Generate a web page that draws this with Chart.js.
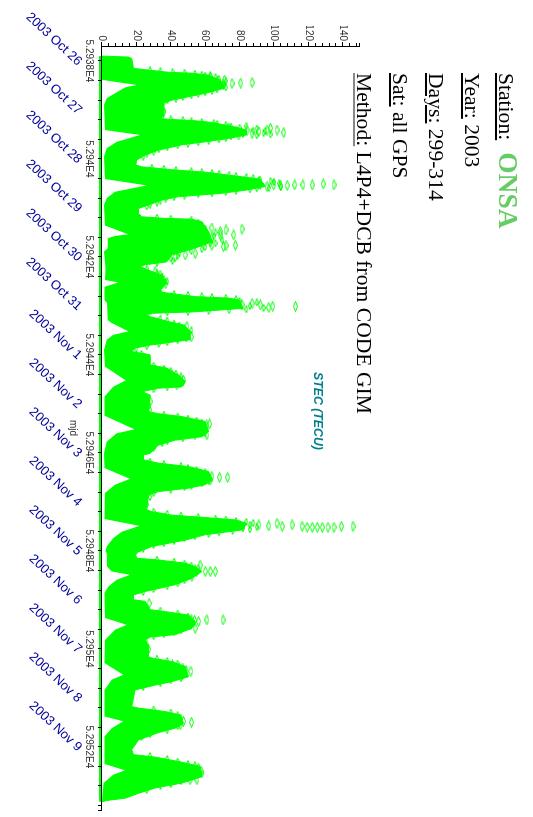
<!DOCTYPE html>
<html><head><meta charset="utf-8">
<script src="https://cdn.jsdelivr.net/npm/chart.js@4"></script>
<style>
html,body{margin:0;padding:0;background:#fff;overflow:hidden;width:533px;height:817px}
#rot{position:absolute;left:0;top:0;width:817px;height:533px;transform-origin:0 0;transform:translate(533px,0) rotate(90deg)}
canvas{position:absolute;left:0;top:0}
.t{position:absolute;left:73px;font-family:"Liberation Serif",serif;font-size:21.6px;line-height:0;white-space:nowrap;color:#000}
.t u{text-underline-offset:2px}
.s{font-weight:bold;font-size:27.5px;color:#66cc66;margin-left:12px}
#stec{position:absolute;left:372px;top:215px;font:italic bold 12.3px "Liberation Sans",sans-serif;line-height:0;color:#00808c;white-space:nowrap}
</style></head><body>
<div id="rot">
<canvas id="c" width="817" height="533"></canvas>
<div class="t" style="top:25px"><u>Station:</u><span class="s">ONSA</span></div>
<div class="t" style="top:61px"><u>Year:</u> 2003</div>
<div class="t" style="top:97px"><u>Days:</u> 299-314</div>
<div class="t" style="top:133px"><u>Sat:</u> all GPS</div>
<div class="t" style="top:169px"><u style="text-decoration-color:#888">Method:</u> L4P4+DCB from CODE GIM</div>
<div id="stec">STEC (TECU)</div>
</div>
<script>
const mjdStart = 52938;
const dateLabels = ["2003 Oct 26","2003 Oct 27","2003 Oct 28","2003 Oct 29","2003 Oct 30","2003 Oct 31","2003 Nov 1","2003 Nov 2","2003 Nov 3","2003 Nov 4","2003 Nov 5","2003 Nov 6","2003 Nov 7","2003 Nov 8","2003 Nov 9"];
const mjdLabels = {52938:"5.2938E4",52940:"5.294E4",52942:"5.2942E4",52944:"5.2944E4",52946:"5.2946E4",52948:"5.2948E4",52950:"5.295E4",52952:"5.2952E4"};
const stecMajorTicks = [0,20,40,60,80,100,120,140];
const stecMinorTicks = [0,4,8,12,16,20,24,28,32,36,40,44,48,52,56,60,64,68,72,76,80,84,88,92,96,100,104,108,112,116,120,124,128,132,136,140,144,148,150];

// upper edge of the dense point cloud (days since mjdStart, TECU)
const upperDays = [-0.10,-0.08,-0.05,0.15,0.17,0.23,0.25,0.29,0.39,0.49,0.56,0.66,0.73,0.80,0.86,1.14,1.17,1.19,1.22,1.25,1.32,1.37,1.41,1.51,1.58,1.65,1.71,1.82,1.92,2.02,2.12,2.16,2.22,2.27,2.33,2.38,2.41,2.56,2.63,2.70,2.77,2.84,2.94,3.01,3.11,3.18,3.21,3.23,3.28,3.48,3.69,3.82,3.96,4.10,4.16,4.20,4.27,4.37,4.54,4.71,4.74,4.81,4.84,4.88,5.05,5.12,5.15,5.16,5.22,5.32,5.39,5.52,5.69,5.73,5.80,5.86,5.93,6.00,6.20,6.27,6.41,6.54,6.65,6.68,6.75,6.82,7.16,7.20,7.26,7.36,7.56,7.67,7.74,7.84,8.01,8.04,8.14,8.21,8.28,8.38,8.55,8.65,8.72,8.79,8.86,9.16,9.20,9.27,9.33,9.37,9.44,9.57,9.67,9.78,9.91,10.05,10.15,10.18,10.25,10.32,10.42,10.56,10.69,10.83,10.90,11.00,11.03,11.20,11.24,11.31,11.44,11.58,11.71,11.76,11.82,11.95,12.16,12.19,12.26,12.36,12.57,12.67,12.74,12.84,13.18,13.21,13.28,13.35,13.52,13.62,13.71,13.86,14.06,14.16,14.21,14.30,14.40,14.61,14.74,14.84,14.95,15.05,15.10,15.12];
const upperStec = [0,15.4,17.3,18.3,23.1,38.7,52.3,62,68.8,70.7,70.7,60,50.3,40.6,35.8,35.8,32.8,38.7,54.2,63,73.7,80,84,84,73.7,60.1,46.5,32.8,25.1,20.2,19.6,23.1,40.6,60.1,73.7,85,92,95,85,69.8,44.5,34.8,27,21.2,21.2,23.1,34.8,52.3,58.1,62,64,54.2,40.6,37.7,25.1,22.2,27,34.8,37.7,32.8,38.7,54.2,73.7,80,82,54.2,29,25.1,28,38.7,47.4,51.3,51.3,42.6,28,19.2,17.3,28,28,37.7,44.5,48.4,46.5,32.8,23.1,28,27,32.8,46.5,60,62,58.1,42.6,32.8,28,24.1,24.1,32.8,50.3,62,64,60,50.3,32.8,27,26,29,40.6,63.9,78,84,82,60.1,48.4,29,19.2,20.2,30.9,48.4,54.2,58.1,52.3,42.6,25.1,18.3,18.3,25.1,28,36.7,50.3,54.2,52.3,42.6,28,25.1,27,27,29,40.6,48.4,50.3,40.6,30.9,19.2,17.3,21.2,36.7,45.5,47.4,42.6,32.8,21.2,17.3,18.3,30.9,44.5,57.1,58.1,46.5,30.9,21.2,13.4,1.7,0];

// lower edge of the dense point cloud, with the daily notches
const lowerDays = [-0.10,0.38,0.39,0.49,0.54,0.66,0.76,0.90,1.41,1.51,1.65,1.78,1.95,2.41,2.54,2.67,2.80,2.94,3.36,3.54,3.57,3.62,3.82,3.89,4.23,4.47,4.52,4.61,4.88,4.94,5.29,5.35,5.52,5.59,5.69,5.90,6.24,6.52,6.65,6.85,7.24,7.52,7.60,7.77,8.01,8.31,8.53,8.65,8.82,9.35,9.49,9.61,9.74,9.91,10.01,10.05,10.32,10.42,10.49,10.59,10.73,10.86,11.37,11.51,11.61,11.82,12.29,12.53,12.63,12.84,13.38,13.48,13.62,13.79,14.35,14.48,14.57,14.74,15.12];
const lowerStec = [0,0,0.8,20.2,13.4,7.6,2.7,1.2,1.7,22.2,8.6,2.7,1.2,1.7,26,7.6,2.7,1.2,1.7,15.4,7.6,3.3,3.3,1.2,2.1,1.7,9.5,1.4,1.4,2.9,3.3,5.6,15.4,6.6,2.7,1.2,1.7,13.8,6.6,1.4,1.4,18.9,8.6,2.7,1.2,1.4,16.3,7.6,1.7,1.4,21.8,11.5,6.6,2.7,2.1,2.7,2.9,5.6,16.3,8.6,3.7,1.4,1.7,14.4,7.6,1.7,1.4,12.4,5.6,1.4,1.4,12.4,5.6,1.4,1.4,13.4,6.6,0.8,0];

const outlierDays = [0.44,0.45,0.46,0.48,0.39,0.32,0.42,1.05,0.98,1.10,0.93,1.46,1.41,1.37,1.41,1.44,1.48,1.41,1.51,1.44,1.37,2.53,2.51,2.53,2.53,2.53,2.54,2.54,2.53,2.56,2.46,3.43,3.55,3.45,3.48,3.55,3.76,3.77,3.79,3.93,3.96,3.99,3.62,3.69,3.76,3.41,4.37,4.54,4.64,4.74,4.30,5.01,5.01,5.03,4.98,4.95,4.98,5.42,5.63,5.52,6.09,6.09,6.09,6.52,6.52,6.61,6.95,7.02,7.41,7.43,7.56,7.63,8.50,8.50,8.48,8.55,9.50,9.50,9.52,9.52,9.52,9.52,9.52,9.52,9.50,9.47,9.50,9.44,9.49,9.47,10.42,10.42,10.42,10.29,10.39,10.52,11.07,11.41,11.41,11.44,11.42,11.51,11.58,12.01,11.92,12.46,12.46,12.53,12.33,13.50,13.48,13.55,14.50,14.44,14.67,14.67];
const outlierStec = [87.3,80.7,75.6,70.7,71.3,63,66.9,35.8,32.8,32.8,31.9,105.7,101.8,98,96,91.2,87.3,84.4,79.5,74.6,73.7,134.9,128.7,122.3,116.8,112.1,107.7,103.8,99.9,96,91.2,81.4,76.6,72.1,68.8,68.8,77.6,72.1,70.7,54.2,48.4,42.6,63.9,63,63.9,63.9,33.8,37.1,32.8,33.8,30.9,112.5,99.3,97,92.1,87.3,81.4,49.4,51.9,48.4,27,25.1,23.1,47.4,45.5,43.5,28,27,62.6,61,58.1,61,73.1,68.4,63.9,63,146,139.2,134.9,131.4,128.1,125.2,122.3,119.3,116.4,110.6,104.8,101.8,97,91.2,65.9,63,60.1,57.1,54.2,52.3,27.4,70.4,61,56.2,53.8,51.3,54.2,27,26,51.7,47.4,46.8,41,52.1,47.4,45.5,57.7,56.2,55.2,51.3];

// observations along the serrated edge of each daily lobe [days, TECU]
const edgeReadings = [
[0.19,28],[0.21,34],[0.23,41],[0.24,48],[0.26,54],[0.28,58],[0.31,63],[0.33,66],[0.30,60],[0.37,68],[0.41,72],[0.45,68],[0.50,71],[0.54,72],[0.52,66],[0.48,64],[0.58,67],[0.61,64],[0.64,60],[0.67,56],[0.70,52],[0.73,47],[0.77,43],[0.80,38],[0.84,36],[0.88,33],[0.92,34],[1.01,36],[1.04,33],[1.13,34],[1.15,33],
[1.19,40],[1.21,47],[1.23,52],[1.25,58],[1.27,65],[1.29,67],[1.31,72],[1.34,75],[1.36,80],[1.33,84],[1.40,78],[1.42,88],[1.45,80],[1.47,94],[1.49,82],[1.52,90],[1.54,75],[1.50,98],[1.43,95],[1.38,90],[1.57,72],[1.60,68],[1.63,62],[1.66,56],[1.69,50],[1.72,44],[1.76,38],[1.80,33],[1.85,30],[1.89,26],[1.95,24],
[2.18,29],[2.20,36],[2.23,43],[2.25,52],[2.27,58],[2.29,64],[2.31,68],[2.33,74],[2.35,78],[2.37,84],[2.39,88],[2.42,92],[2.45,98],[2.47,100],[2.50,103],[2.55,92],[2.57,104],[2.59,97],[2.60,90],[2.62,86],[2.65,78],[2.67,72],[2.70,64],[2.72,56],[2.75,48],[2.78,42],[2.81,37],[2.85,34],[2.89,32],[2.93,28],[2.97,26],
[3.20,32],[3.22,40],[3.24,52],[3.30,56],[3.34,50],[3.38,57],[3.42,60],[3.46,58],[3.50,66],[3.54,61],[3.58,65],[3.62,58],[3.66,70],[3.70,60],[3.72,66],[3.80,60],[3.84,58],[3.88,52],[3.92,45],[3.98,44],[4.03,40],[4.08,41],[4.12,32],[4.24,26],[4.33,32],[4.40,35],[4.46,36],[4.50,38],[4.58,35],[4.66,34],[4.70,33],
[4.76,42],[4.78,50],[4.80,58],[4.82,64],[4.84,72],[4.86,78],[4.90,80],[4.93,90],[4.96,78],[5.00,86],[5.04,94],[5.07,84],[5.08,74],[5.10,62],[5.12,50],[5.13,38],
[5.20,27],[5.26,34],[5.30,38],[5.36,42],[5.40,45],[5.46,48],[5.50,52],[5.57,47],[5.60,50],[5.66,49],[5.70,44],[5.74,38],[5.77,33],[5.82,26],[5.88,20],[5.98,23],[6.04,25],[6.14,27],[6.22,30],
[6.28,36],[6.33,40],[6.38,43],[6.44,46],[6.48,44],[6.56,42],[6.60,45],[6.66,38],[6.70,30],[6.76,24],[6.88,26],[7.06,26],[7.12,28],
[7.22,36],[7.26,44],[7.30,50],[7.34,55],[7.38,58],[7.44,57],[7.48,60],[7.52,56],[7.60,60],[7.65,54],[7.70,47],[7.76,38],[7.80,35],[7.90,30],[7.96,26],
[8.18,28],[8.23,36],[8.27,46],[8.31,50],[8.35,55],[8.40,60],[8.44,58],[8.58,62],[8.62,58],[8.67,52],[8.70,48],[8.75,40],[8.82,30],[8.90,28],[9.05,26],
[9.20,30],[9.24,38],[9.28,46],[9.31,56],[9.34,66],[9.36,72],[9.39,78],[9.41,84],[9.43,88],[9.46,80],[9.48,86],[9.51,90],[9.54,82],[9.56,86],[9.59,76],[9.62,68],[9.65,62],[9.70,54],[9.74,48],[9.80,42],[9.84,36],[9.88,30],[9.96,24],[10.0,20],
[10.18,32],[10.22,42],[10.26,48],[10.30,52],[10.35,56],[10.45,55],[10.48,50],[10.54,48],[10.60,48],[10.66,44],[10.72,38],[10.78,30],[10.84,24],
[11.22,34],[11.28,44],[11.34,50],[11.38,52],[11.47,53],[11.50,47],[11.54,49],[11.62,46],[11.66,42],[11.70,36],[11.74,30],
[12.20,32],[12.25,38],[12.30,44],[12.38,47],[12.42,49],[12.50,48],[12.55,44],[12.60,46],[12.64,40],[12.70,34],[12.78,24],
[13.24,30],[13.30,40],[13.36,44],[13.42,46],[13.45,44],[13.58,44],[13.66,38],[13.74,28],[13.80,23],
[14.19,28],[14.25,38],[14.30,44],[14.35,50],[14.38,54],[14.45,54],[14.55,58],[14.58,54],[14.64,50],[14.70,46],[14.76,40],[14.80,34],[14.88,26]
];

const xy = (days, vals) => days.map((d, i) => ({x: mjdStart + d, y: vals[i]}));
const GREEN = '#00ff00';

// stretched open diamonds used as the point markers
function diamond(w, h) {
  const c = document.createElement('canvas');
  c.width = w; c.height = h;
  const g = c.getContext('2d');
  g.strokeStyle = GREEN; g.lineWidth = 1;
  g.beginPath(); g.moveTo(0.5,h/2); g.lineTo(w/2,0.5); g.lineTo(w-0.5,h/2); g.lineTo(w/2,h-0.5); g.closePath(); g.stroke();
  return c;
}
const marker = diamond(11,5), edgeMarker = diamond(8,4);

const zeroPad = s => { s.paddingLeft = s.paddingRight = s.paddingTop = s.paddingBottom = 0; };
const AXIS_MIN = 52937.694, AXIS_MAX = 52953.29;
const labelFont = {family: '"Liberation Sans",Arial,sans-serif', size: 10};

new Chart(document.getElementById('c'), {
  type: 'scatter',
  data: {datasets: [
    {label:'lower', data: xy(lowerDays, lowerStec), showLine:true, borderWidth:0, backgroundColor:'#ffffff', pointRadius:0, fill:'origin', tension:0},
    {label:'upper', data: xy(upperDays, upperStec), showLine:true, borderColor:GREEN, borderWidth:1, backgroundColor:GREEN, pointRadius:0, fill:'origin', tension:0},
    {label:'zero', data: xy([-0.10,15.12],[0,0]), showLine:true, borderColor:GREEN, borderWidth:6, pointRadius:0, clip:false},
    {label:'edge', data: edgeReadings.map(p=>({x:mjdStart+p[0],y:p[1]})), pointStyle: edgeMarker, pointRadius:4, showLine:false, clip:false},
    {label:'STEC', data: xy(outlierDays, outlierStec), pointStyle: marker, pointRadius:5, showLine:false, clip:false}
  ]},
  options: {
    responsive:false, animation:false, devicePixelRatio:1,
    layout:{padding:{left:26,right:7,top:173,bottom:0}},
    plugins:{legend:{display:false},tooltip:{enabled:false},title:{display:false}},
    scales:{
      x:{type:'linear',position:'bottom',weight:1,min:AXIS_MIN,max:AXIS_MAX,
        afterFit(s){s.height=16;zeroPad(s);},
        afterBuildTicks(s){const t=[];for(const d of [52938,52938.4,52938.8,52939.2,52939.6,52940,52940.4,52940.8,52941.2,52941.6,52942,52942.4,52942.8,52943.2,52943.6,52944,52944.4,52944.8,52945.2,52945.6,52946,52946.4,52946.8,52947.2,52947.6,52948,52948.4,52948.8,52949.2,52949.6,52950,52950.4,52950.8,52951.2,52951.6,52952,52952.4,52952.8,52953.2,AXIS_MAX])t.push({value:d});s.ticks=t;},
        ticks:{autoSkip:false,maxRotation:0,minRotation:0,padding:3,color:'#333',font:labelFont,callback:v=>mjdLabels[v]||''},
        grid:{drawOnChartArea:false,tickLength:4,tickColor:'#000',z:1},
        border:{color:'#000',width:1,z:1}
      },
      dates:{type:'linear',axis:'x',position:'bottom',weight:2,min:AXIS_MIN,max:AXIS_MAX,
        afterFit(s){s.height=86;zeroPad(s);},
        afterBuildTicks(s){s.ticks=dateLabels.map((_,i)=>({value:mjdStart+i+0.05}));},
        ticks:{autoSkip:false,maxRotation:47,minRotation:47,padding:-7,color:'#00009b',font:{family:'"Liberation Sans",Arial,sans-serif',size:13},callback:(v)=>dateLabels[Math.round(v-0.05-mjdStart)]},
        grid:{display:false},border:{display:false},
        title:{display:true,text:'mjd',color:'#333',font:labelFont,padding:{top:0,bottom:67}}
      },
      y:{type:'linear',position:'left',weight:1,min:0,max:150,
        afterFit(s){s.width=20;zeroPad(s);},
        afterBuildTicks(s){s.ticks=stecMajorTicks.map(v=>({value:v}));},
        ticks:{autoSkip:false,padding:1,color:'#333',font:labelFont},
        grid:{drawOnChartArea:false,tickLength:4,tickColor:'#000',z:1},
        border:{color:'#000',width:1,z:1}
      },
      yMinor:{type:'linear',axis:'y',position:'left',weight:0,min:0,max:150,
        afterFit(s){s.width=0;zeroPad(s);},
        afterBuildTicks(s){s.ticks=stecMinorTicks.map(v=>({value:v}));},
        ticks:{autoSkip:false,display:false},
        grid:{drawOnChartArea:false,tickLength:3,tickColor:'#000',z:1},
        border:{display:false}
      }
    }
  }
});
</script>
</body></html>
